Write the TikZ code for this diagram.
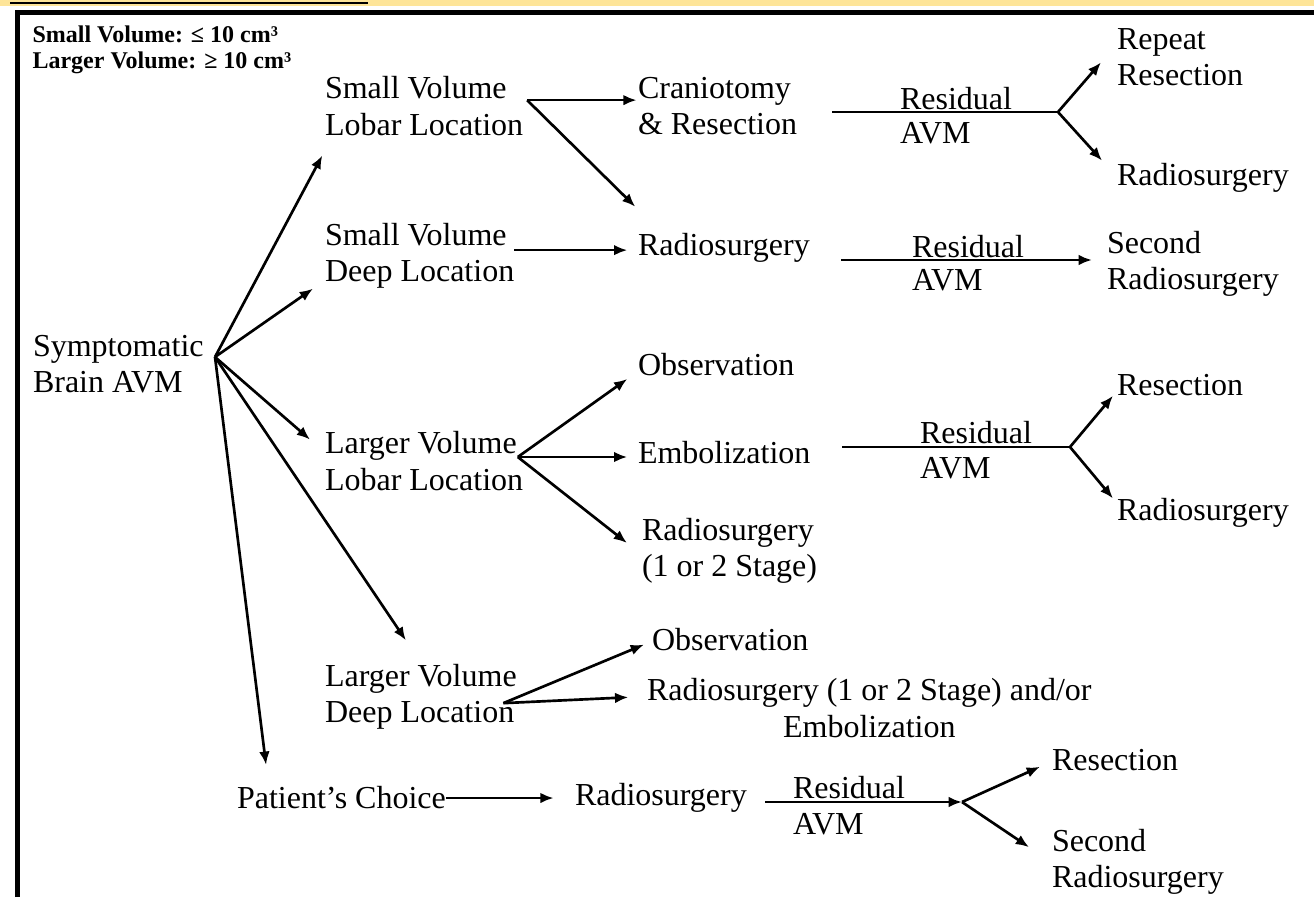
\documentclass[tikz,border=0pt]{standalone}
\usepackage{fontspec}
\setmainfont{Liberation Serif}
\usetikzlibrary{arrows.meta,positioning,calc}
\definecolor{bandyellow}{RGB}{254,229,153}

\begin{document}
\begin{tikzpicture}[x=0.375pt, y=-0.375pt, >={Latex[length=5pt,width=4pt]}]
\tikzset{
    txt/.style={anchor=west, align=left, inner sep=0pt, outer sep=0pt,
        font=\fontsize{12pt}{13.6pt}\selectfont},
    hdr/.style={anchor=north west, align=left, inner sep=0pt,
        font=\bfseries\fontsize{9pt}{10pt}\selectfont},
    arr/.style={->, line width=1pt},
    thinline/.style={line width=0.6pt},
    thickline/.style={line width=1.1pt},
}

    \useasboundingbox (0,0) rectangle (1314,897);

    % frame of the page
    \fill[bandyellow] (0,0) rectangle (1314,5.5);
    \draw[line width=1pt] (10,3) -- (368,3);
    \draw[line width=1.7pt] (17.5,897) -- (17.5,12.5) -- (1314,12.5);

    \node[hdr] (key) at (32,25) {Small Volume: ≤ 10 cm³\\Larger Volume: ≥ 10 cm³};

    % first column
    \node[txt] (symp) at (33,364) {Symptomatic\\Brain AVM};
    \coordinate (root) at (215,357);

    % second column
    \node[txt] (slobar) at (325,106) {Small Volume\\Lobar Location};
    \node[txt] (sdeep) at (325,256) {Small Volume\\Deep Location};
    \node[txt] (llobar) at (325,461) {Larger Volume\\Lobar Location};
    \node[txt] (ldeep) at (325,697) {Larger Volume\\Deep Location};
    \node[txt] (choice) at (237,798) {Patient’s Choice};

    % third column
    \node[txt] (cran) at (638,106) {Craniotomy\\\& Resection};
    \node[txt] (radA) at (638,248) {Radiosurgery};
    \node[txt] (obsA) at (638,365) {Observation};
    \node[txt] (embA) at (638,453) {Embolization};
    \node[txt] (radB) at (642,551) {Radiosurgery\\(1 or 2 Stage)};
    \node[txt] (obsB) at (652,640) {Observation};
    \node[txt, align=center] (radC) at (647,708) {Radiosurgery (1 or 2 Stage) and/or\\Embolization};
    \node[txt] (radD) at (575,798) {Radiosurgery};

    % last column
    \node[txt] (repres) at (1117,57) {Repeat\\Resection};
    \node[txt] (radE) at (1117,178) {Radiosurgery};
    \node[txt] (second) at (1107,264) {Second\\Radiosurgery};
    \node[txt] (resA) at (1117,385) {Resection};
    \node[txt] (radF) at (1117,513) {Radiosurgery};
    \node[txt] (resB) at (1052,760) {Resection};
    \node[txt] (secB) at (1052,862) {Second\\Radiosurgery};

    % residual AVM labels
    \node[txt] (residA) at (900,99) {Residual};
    \node[txt] (avmA) at (900,133) {AVM};
    \node[txt] (residB) at (912,247) {Residual};
    \node[txt] (avmB) at (912,280) {AVM};
    \node[txt] (residC) at (920,433) {Residual};
    \node[txt] (avmC) at (920,468) {AVM};
    \node[txt] (residD) at (793,788) {Residual};
    \node[txt] (avmD) at (793,824) {AVM};

    \coordinate (rA) at (832,112);
    \coordinate (jA) at (1058,112);
    \coordinate (rB) at (841,260);
    \coordinate (eB) at (1092,260);
    \coordinate (rC) at (842,447);
    \coordinate (jC) at (1070,447);
    \coordinate (rD) at (765,802);
    \coordinate (jD) at (962,802);
    \coordinate (fA) at ([xshift=1.5pt,yshift=2.2pt]slobar.east);
    \coordinate (fB) at ([yshift=2.2pt]sdeep.east);
    \coordinate (fC) at ([xshift=-2pt,yshift=1.5pt]llobar.east);
    \coordinate (fD) at ([xshift=-5pt,yshift=-2.3pt]ldeep.east);

    % from the root
    \draw[arr] (root) -- ([xshift=-1pt,yshift=-7.5pt]slobar.south west);
    \draw[arr] (root) -- ([xshift=-4.5pt]sdeep.south west);
    \draw[arr] (root) -- ([xshift=-5.6pt,yshift=-3pt]llobar.north west);
    \draw[arr] (root) -- ([xshift=-5.6pt,yshift=9pt]ldeep.north);
    \draw[arr] (root) -- ([xshift=10.9pt,yshift=8.2pt]choice.north west);

    % second level
    \draw[arr] (fA) -- ([xshift=-0.5pt,yshift=2.2pt]cran.west);
    \draw[arr] (fA) -- ([xshift=-1pt,yshift=10pt]radA.north west);
    \draw[arr] (fB) -- ([xshift=-4pt,yshift=-0.8pt]radA.west);
    \draw[arr] (fC) -- ([xshift=-4pt,yshift=-1pt]obsA.south west);
    \draw[arr] (fC) -- ([xshift=-4pt,yshift=-1.5pt]embA.west);
    \draw[arr] (fC) -- ([xshift=-5.6pt,yshift=3pt]radB.west);
    \draw[arr] (fD) -- ([xshift=-3pt,yshift=2.5pt]obsB.south west);
    \draw[arr] (fD) -- ([xshift=-7pt,yshift=-7pt]radC.north west);
    \draw[arr] (choice.east) -- ([xshift=-8pt]radD.west);

    % residual AVM
    \draw[thinline] (rA) -- (jA);
    \draw[arr] (jA) -- ([xshift=-6pt,yshift=-2pt]repres.west);
    \draw[arr] (jA) -- ([xshift=-5.6pt,yshift=6.5pt]radE.west);
    \draw[thickline, ->] (rB) -- (eB);
    \draw[thinline] (rC) -- (jC);
    \draw[arr] (jC) -- ([xshift=-1.5pt]resA.south west);
    \draw[arr] (jC) -- ([xshift=-1.5pt]radF.north west);
    \draw[thickline, ->] (rD) -- (jD);
    \draw[arr] (jD) -- ([xshift=-4.5pt,yshift=1.5pt]resB.south west);
    \draw[arr] (jD) -- ([xshift=-8.6pt,yshift=-6.7pt]secB.north west);

\end{tikzpicture}
\end{document}
